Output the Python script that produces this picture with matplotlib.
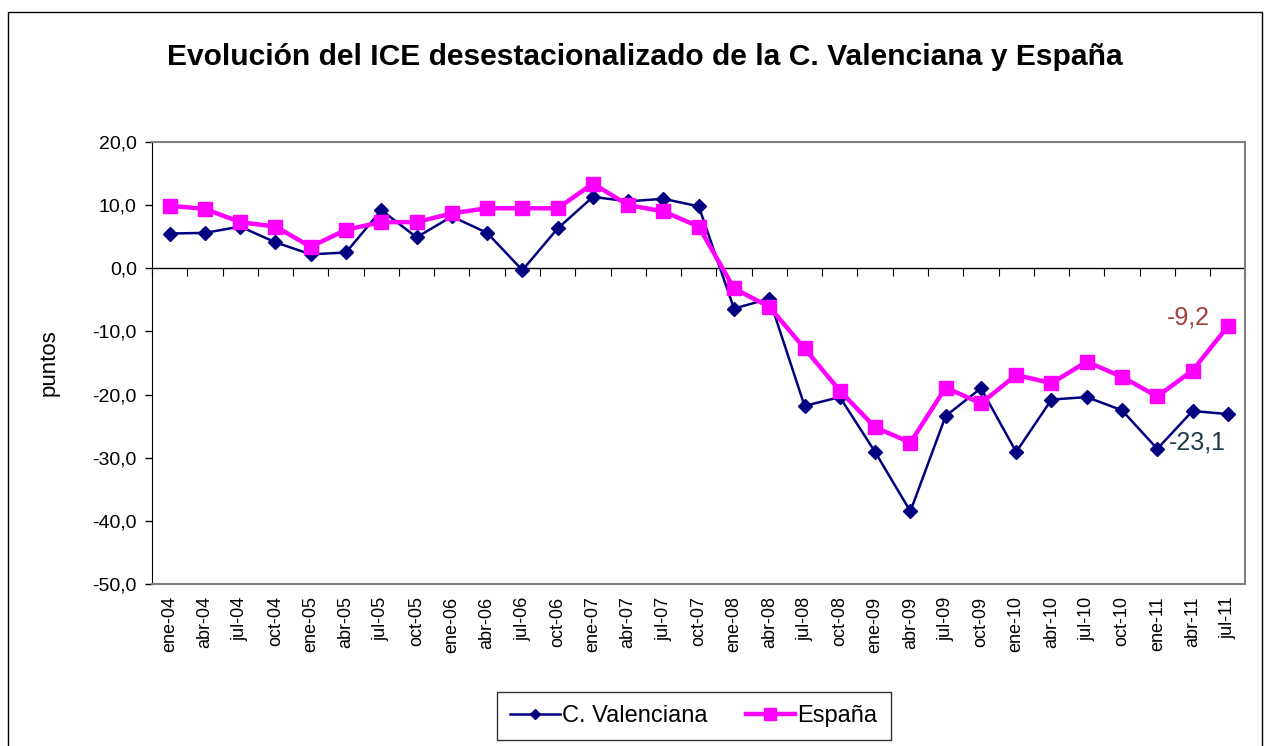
import numpy as np
import matplotlib.pyplot as plt
from matplotlib.patches import Rectangle

plt.rcParams['font.family'] = ['Liberation Sans', 'DejaVu Sans']

# quarterly categories
quarters = ["ene-04", "abr-04", "jul-04", "oct-04", "ene-05", "abr-05", "jul-05", "oct-05",
            "ene-06", "abr-06", "jul-06", "oct-06", "ene-07", "abr-07", "jul-07", "oct-07",
            "ene-08", "abr-08", "jul-08", "oct-08", "ene-09", "abr-09", "jul-09", "oct-09",
            "ene-10", "abr-10", "jul-10", "oct-10", "ene-11", "abr-11", "jul-11"]

valenciana = [5.5, 5.6, 6.6, 4.1, 2.2, 2.5, 9.2, 4.9, 8.2, 5.6, -0.3, 6.3, 11.3, 10.6, 11.0, 9.8,
              -6.4, -4.8, -21.8, -20.4, -29.1, -38.5, -23.4, -19.0, -29.1, -20.8, -20.4, -22.5,
              -28.6, -22.6, -23.1]

espana = [9.9, 9.4, 7.3, 6.6, 3.4, 6.1, 7.3, 7.3, 8.7, 9.5, 9.5, 9.5, 13.4, 10.0, 9.0, 6.6,
          -3.2, -6.1, -12.7, -19.4, -25.2, -27.6, -18.9, -21.4, -16.9, -18.2, -14.8, -17.2,
          -20.3, -16.2, -9.2]

yticks = np.arange(-50, 21, 10)

fig = plt.figure(figsize=(12.67, 7.46), dpi=100)
ax = fig.add_axes([0.12, 0.2172, 0.983 - 0.12, 0.8097 - 0.2172])

x = np.arange(len(quarters))
ax.plot(x, valenciana, color="#000080", lw=1.8, marker="D", ms=7, label="C. Valenciana", zorder=3)
ax.plot(x, espana, color="#FF00FF", lw=3.2, marker="s", ms=10, label="España", zorder=4)

ax.set_xlim(-0.5, len(quarters) - 0.5)
ax.set_ylim(-50, 20)
ax.set_yticks(yticks)
ax.set_yticklabels([f"{v:.1f}".replace(".", ",") for v in yticks], fontsize=14)
ax.set_xticks(x)
ax.set_xticklabels(quarters, rotation=90, fontsize=13)
ax.tick_params(axis="x", length=0, pad=9)
ax.tick_params(axis="y", direction="out", length=5, width=1, pad=6)
ax.set_ylabel("puntos", fontsize=16)
ax.yaxis.set_label_coords((60 - 152) / 1093, 0.5)

for s in ["top", "right", "bottom"]:
    ax.spines[s].set_color("#808080")
    ax.spines[s].set_linewidth(1.5)
ax.spines["left"].set_color("black")

# category axis crossing at zero
ax.axhline(0, color="black", lw=1, zorder=2)
sec = ax.secondary_xaxis((0 - (-50)) / 70)
sec.set_xticks(np.arange(-0.5, len(quarters), 1))
sec.tick_params(direction="in", length=6, labeltop=False, labelbottom=False)
sec.spines["top"].set_visible(False)
sec.spines["bottom"].set_visible(False)

# end labels
ax.annotate("-9,2", (x[-1], espana[-1]), xytext=(-39, 9), textcoords="offset pixels",
            ha="center", va="center", fontsize=18, color="#A0413C")
ax.annotate("-23,1", (x[-1], valenciana[-1]), xytext=(-30, -28), textcoords="offset pixels",
            ha="center", va="center", fontsize=18, color="#1F3A46")

fig.text(645 / 1267, 1 - 57 / 746, "Evolución del ICE desestacionalizado de la C. Valenciana y España",
         ha="center", va="center", fontsize=21.6, fontweight="bold")

leg = fig.legend(loc="center", bbox_to_anchor=(694 / 1267, 1 - 716 / 746), ncol=2, fontsize=17,
                 frameon=True, fancybox=False, edgecolor="black", handlelength=2.1,
                 handletextpad=0.1, columnspacing=1.6, borderpad=0.55, markerscale=0.8)
leg.get_frame().set_linewidth(1)

fig.patches.append(Rectangle((8 / 1267, -0.01), (1262 - 8) / 1267, 1 - 12 / 746 + 0.01,
                             transform=fig.transFigure, fill=False, edgecolor="black", lw=1))

fig.savefig("out.png", dpi=100)
